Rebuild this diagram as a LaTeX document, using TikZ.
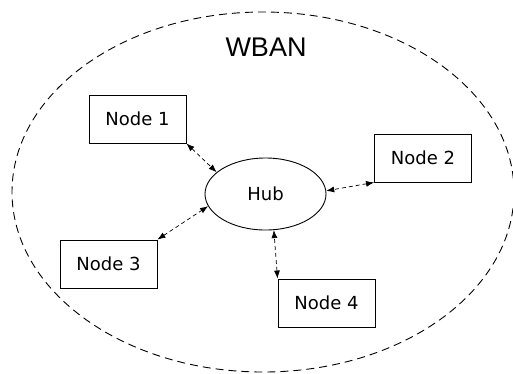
\documentclass[tikz,border=0pt]{standalone}
\usepackage{fontspec}
\setmainfont{DejaVu Sans}
\newfontfamily\titlefont{Liberation Sans}
\usetikzlibrary{arrows.meta,shapes.geometric}

\tikzset{
  px/.style={x=1pt,y=-1pt},
  sensor/.style={draw,line width=0.9pt,minimum width=97pt,minimum height=48pt,
    inner sep=0pt,font=\fontsize{18}{20}\selectfont},
  hubnode/.style={draw,ellipse,line width=0.9pt,minimum width=121pt,minimum height=72pt,
    inner sep=0pt,font=\fontsize{18}{20}\selectfont},
  link/.style={line width=0.7pt,dash pattern=on 4pt off 3pt,
    {Latex[length=8pt,width=6pt]}-{Latex[length=8pt,width=6pt]}},
  area/.style={line width=0.9pt,dash pattern=on 8pt off 5pt}
}

\begin{document}
\begin{tikzpicture}[px]
  \useasboundingbox (0,0) rectangle (513,373);
  \clip (0,0) rectangle (513,373);

  % network boundary
  \draw[area] (263,192) ellipse [x radius=251pt, y radius=180pt];
  \node[font=\titlefont\fontsize{27}{30}\selectfont] (wban) at (266,47) {WBAN};

  % hub and body sensors
  \node[hubnode] (hub) at (265.5,194) {Hub};
  \node[sensor] (n1) at (137.5,119) {Node 1};
  \node[sensor] (n2) at (423,158) {Node 2};
  \node[sensor] (n3) at (108.5,264) {Node 3};
  \node[sensor] (n4) at (326.5,303) {Node 4};

  % wireless links
  \draw[link] (n1.south east) -- (hub.156);
  \draw[link] (n2.south west) -- (hub.3);
  \draw[link] (n3.north east) -- (hub.192);
  \draw[link] (n4.north west) -- (hub.283);
\end{tikzpicture}
\end{document}
